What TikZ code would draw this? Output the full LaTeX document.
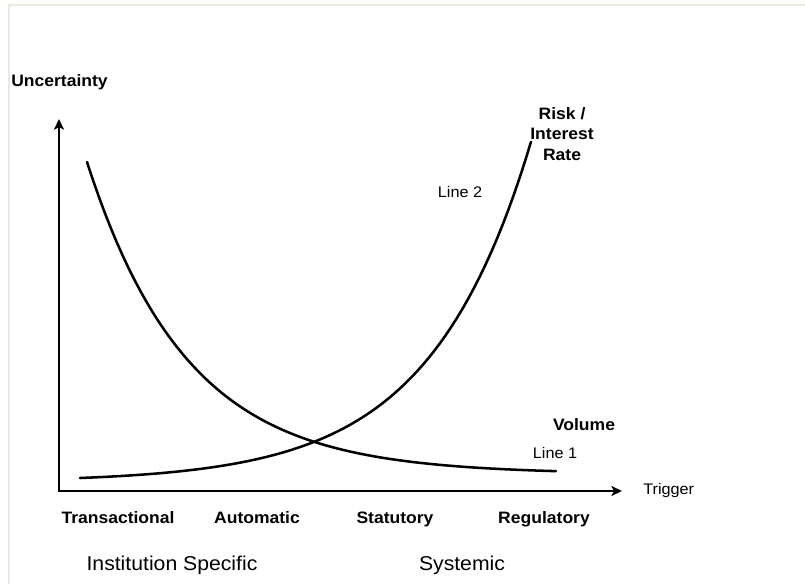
\documentclass[tikz,border=0pt]{standalone}
\usepackage{fontspec}
\setmainfont{Liberation Sans}[FakeStretch=1.06]
\usetikzlibrary{arrows.meta}

\definecolor{framebeige}{RGB}{236,234,222}

\tikzset{
  axisline/.style={line width=1.6pt,line join=miter,{Stealth[length=8pt,width=7.5pt,inset=2pt]}-{Stealth[length=8pt,width=7.5pt,inset=2pt]}},
  curveline/.style={line width=1.9pt,line cap=round},
  boldlabel/.style={font=\fontsize{12.4}{15.5}\selectfont\bfseries,inner sep=0pt},
  smalllabel/.style={font=\fontsize{11.5}{13}\selectfont,inner sep=0pt},
  biglabel/.style={font=\fontsize{15}{18}\selectfont,inner sep=0pt}
}

\begin{document}
\begin{tikzpicture}[x=0.75pt,y=-0.75pt]
  \useasboundingbox (0,0) rectangle (805,584);
  % frame
  \draw[framebeige,line width=1.2pt] (9,584) -- (9,5) -- (805,5);

  % axes
  \coordinate (origin) at (59,491);
  \coordinate (ytip) at (59,119);
  \coordinate (xtip) at (622,491);
  \draw[axisline] (ytip) -- (origin) -- (xtip);

  % line 1
  \draw[curveline] plot[domain=87:556,samples=80] (\x,{474-312*exp(-(\x-87)/100)});
  % line 2
  \draw[curveline] plot[domain=80:531,samples=80] (\x,{482-4*exp((\x-80)/101.5)});

  \node[boldlabel,anchor=west] (uncert) at (11,82) {Uncertainty};
  \node[smalllabel,anchor=west] (trigger) at (643,491) {Trigger};
  \node[boldlabel,align=center] (risk) at (562,134) {Risk /\\Interest\\Rate};
  \node[smalllabel] (line2) at (460,192) {Line 2};
  \node[boldlabel] (volume) at (584,425) {Volume};
  \node[smalllabel] (line1) at (555,453) {Line 1};

  \node[boldlabel,anchor=base] (trans) at (118,523) {Transactional};
  \node[boldlabel,anchor=base] (auto) at (257,523) {Automatic};
  \node[boldlabel,anchor=base] (statut) at (395,523) {Statutory};
  \node[boldlabel,anchor=base] (regul) at (544,523) {Regulatory};

  \node[biglabel,anchor=base] (instspec) at (172,570) {Institution Specific};
  \node[biglabel,anchor=base] (systemic) at (462,570) {Systemic};
\end{tikzpicture}
\end{document}
